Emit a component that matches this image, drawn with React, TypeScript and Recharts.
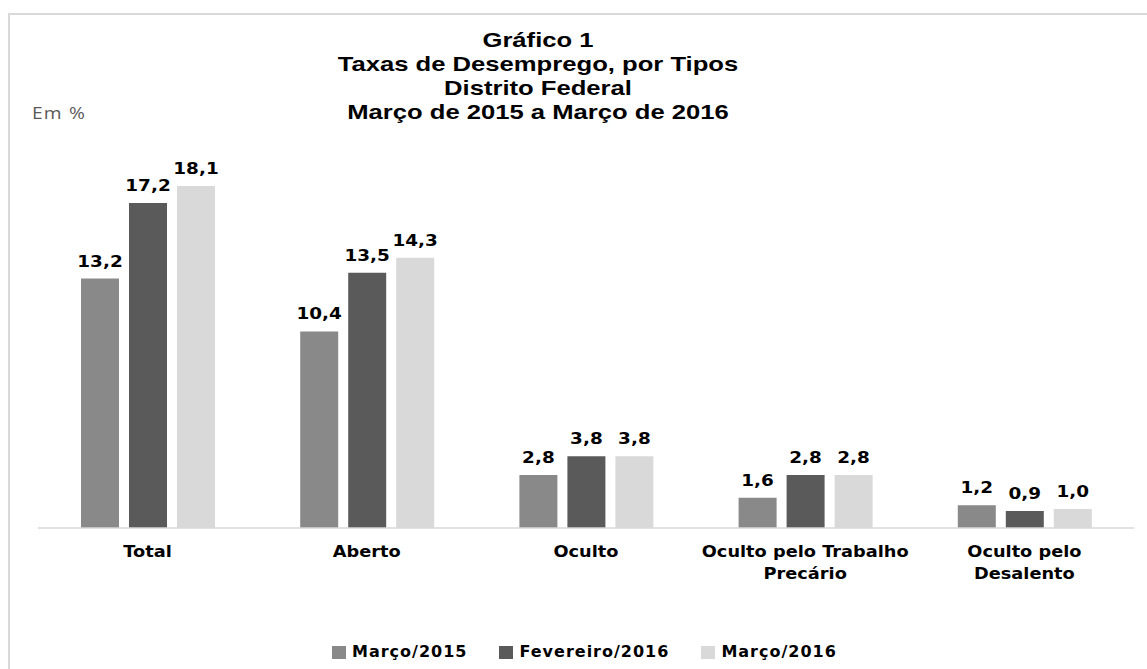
import React from 'react';
import { BarChart, Bar, XAxis, YAxis, Legend, LabelList } from 'recharts';

const categories = ['Total', 'Aberto', 'Oculto', 'Oculto pelo Trabalho Precário', 'Oculto pelo Desalento'];
const tickLines = [['Total'], ['Aberto'], ['Oculto'], ['Oculto pelo Trabalho', 'Precário'], ['Oculto pelo', 'Desalento']];
const marco2015 = [13.2, 10.4, 2.8, 1.6, 1.2];
const fevereiro2016 = [17.2, 13.5, 3.8, 2.8, 0.9];
const marco2016 = [18.1, 14.3, 3.8, 2.8, 1.0];
const seriesNames = ['Março/2015', 'Fevereiro/2016', 'Março/2016'];
const titleLines = ['Gráfico 1', 'Taxas de Desemprego, por Tipos', 'Distrito Federal', 'Março de 2015 a Março de 2016'];

const colors = ['#898989', '#5a5a5a', '#d9d9d9'];
const labelFont = '"DejaVu Sans", Verdana, sans-serif';

const data = categories.map((name, i) => ({
  name,
  m2015: marco2015[i],
  f2016: fevereiro2016[i],
  m2016: marco2016[i],
}));

const fmt = (v: number) => v.toFixed(1).replace('.', ',');

// value above each bar, glyphs widened like the source
const ValueLabel = (props: any) => {
  const { x, y, width, value } = props;
  const cx = x + width / 2;
  return (
    <text
      transform={`translate(${cx},${y - 12}) scale(1.15,1)`}
      textAnchor="middle"
      fontFamily={labelFont}
      fontWeight="bold"
      fontSize={16}
      fill="#000"
    >
      {fmt(value)}
    </text>
  );
};

const CategoryTick = (props: any) => {
  const { x, y, payload } = props;
  const lines = tickLines[payload.index] || [payload.value];
  return (
    <g transform={`translate(${x},${y})`}>
      {lines.map((line, i) => (
        <text
          key={i}
          transform={`translate(0,${29 + i * 22}) scale(1.11,1)`}
          textAnchor="middle"
          fontFamily={labelFont}
          fontWeight="bold"
          fontSize={16}
          fill="#000"
        >
          {line}
        </text>
      ))}
    </g>
  );
};

const LegendContent = () => (
  <div style={{ display: 'flex', alignItems: 'center', height: 20 }}>
    {seriesNames.map((n, i) => (
      <div key={n} style={{ display: 'flex', alignItems: 'center', marginRight: i < 2 ? 32 : 0 }}>
        <span style={{ width: 14, height: 13, background: colors[i], display: 'inline-block', marginRight: 6 }} />
        <span
          style={{
            fontFamily: labelFont,
            fontWeight: 'bold',
            fontSize: 16,
            letterSpacing: 1,
            color: '#000',
            lineHeight: '20px',
            whiteSpace: 'nowrap',
          }}
        >
          {n}
        </span>
      </div>
    ))}
  </div>
);

export default function App() {
  return (
    <div style={{ position: 'absolute', left: 0, top: 0, width: 1147, height: 669, overflow: 'hidden', background: '#fff' }}>
      <div
        style={{
          position: 'absolute',
          left: 8,
          top: 13,
          width: 1160,
          height: 700,
          border: '2px solid #d9d9d9',
          boxSizing: 'border-box',
        }}
      />
      <BarChart
        width={1147}
        height={669}
        data={data}
        margin={{ top: 150, right: 13, left: 38, bottom: 101 }}
        barSize={38}
        barGap={10}
        style={{ position: 'absolute', left: 0, top: 0 }}
      >
        <XAxis
          dataKey="name"
          height={40}
          interval={0}
          tickLine={false}
          tickSize={0}
          tickMargin={0}
          axisLine={{ stroke: '#d9d9d9', strokeWidth: 1.5 }}
          tick={<CategoryTick />}
        />
        <YAxis hide domain={[0, 20]} />
        <Legend
          layout="horizontal"
          align="center"
          verticalAlign="middle"
          content={<LegendContent />}
          wrapperStyle={{ position: 'absolute', left: 332, top: 642, width: 700, height: 20 }}
        />
        <Bar dataKey="m2015" name={seriesNames[0]} fill={colors[0]} isAnimationActive={false}>
          <LabelList dataKey="m2015" content={<ValueLabel />} />
        </Bar>
        <Bar dataKey="f2016" name={seriesNames[1]} fill={colors[1]} isAnimationActive={false}>
          <LabelList dataKey="f2016" content={<ValueLabel />} />
        </Bar>
        <Bar dataKey="m2016" name={seriesNames[2]} fill={colors[2]} isAnimationActive={false}>
          <LabelList dataKey="m2016" content={<ValueLabel />} />
        </Bar>
      </BarChart>
      <div
        style={{
          position: 'absolute',
          left: 32,
          top: 104,
          fontFamily: '"Open Sans", sans-serif',
          fontSize: 16,
          letterSpacing: 1,
          color: '#595959',
          lineHeight: '18px',
          transform: 'scaleX(1.2)',
          transformOrigin: 'left center',
        }}
      >
        Em %
      </div>
      <div
        style={{
          position: 'absolute',
          left: 238,
          top: 28,
          width: 600,
          textAlign: 'center',
          fontFamily: '"Liberation Sans", Arial, sans-serif',
          fontWeight: 'bold',
          fontSize: 21,
          lineHeight: '24px',
          color: '#000',
          transform: 'scaleX(1.22)',
          transformOrigin: 'center',
        }}
      >
        {titleLines.map((t) => (
          <div key={t}>{t}</div>
        ))}
      </div>
    </div>
  );
}
